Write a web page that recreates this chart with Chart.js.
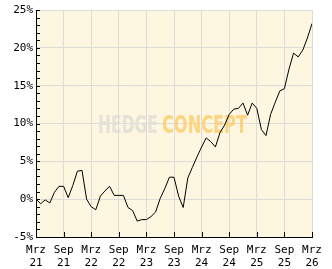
<!DOCTYPE html>
<html>
<head>
<meta charset="utf-8">
<script src="https://cdn.jsdelivr.net/npm/chart.js@4"></script>
<style>
  html, body { margin: 0; padding: 0; background: #fff; }
  canvas { display: block; }
</style>
</head>
<body>
<canvas id="perf" width="332" height="269"></canvas>
<script>
// monthly performance in %, Mrz 21 .. Mrz 26
const months = [];
for (let i = 0; i <= 60; i++) months.push(i);
const perf = [
  0.0, -0.6, -0.1, -0.5, 0.9, 1.7, 1.7, 0.2, 1.8, 3.7,
  3.8, 0.0, -1.0, -1.4, 0.4, 1.1, 1.7, 0.5, 0.5, 0.5,
  -1.1, -1.5, -2.9, -2.7, -2.7, -2.3, -1.7, 0.1, 1.4, 2.9,
  2.9, 0.4, -1.1, 2.8, 4.2, 5.6, 6.9, 8.1, 7.6, 6.9,
  8.8, 9.8, 11.2, 11.9, 12.0, 12.7, 11.1, 12.7, 12.0, 9.2,
  8.4, 11.2, 12.8, 14.3, 14.6, 17.2, 19.3, 18.8, 19.7, 21.3,
  23.2
];
const xTickLabels = [
  ['Mrz', '21'], ['Sep', '21'], ['Mrz', '22'], ['Sep', '22'], ['Mrz', '23'], ['Sep', '23'],
  ['Mrz', '24'], ['Sep', '24'], ['Mrz', '25'], ['Sep', '25'], ['Mrz', '26']
];

const FONT = "'DejaVu Sans Mono', monospace";

function stretchText(ctx, text, x, y, width) {
  const w = ctx.measureText(text).width;
  ctx.save();
  ctx.translate(x, y);
  ctx.scale(width / w, 1);
  ctx.fillText(text, 0, 0);
  ctx.restore();
}

const plotBg = {
  id: 'plotBg',
  beforeDraw(chart) {
    const { ctx, chartArea: a } = chart;
    ctx.save();
    ctx.fillStyle = '#fdf6e0';
    ctx.fillRect(a.left, a.top, a.right - a.left, a.bottom - a.top);
    ctx.restore();
  },
  beforeDatasetsDraw(chart) {
    // watermark
    const { ctx, chartArea: a } = chart;
    const x0 = (a.left + a.right) / 2 - 76;
    ctx.save();
    ctx.font = "bold 25px 'DejaVu Sans Condensed', 'DejaVu Sans', sans-serif";
    ctx.textBaseline = 'alphabetic';
    ctx.fillStyle = 'rgba(225,222,214,0.85)';
    stretchText(ctx, 'HEDGE', x0, 133, 60);
    ctx.fillStyle = 'rgba(253,206,110,0.85)';
    stretchText(ctx, 'CONCEPT', x0 + 64, 133, 85);
    ctx.restore();
  },
  afterDraw(chart) {
    // small tick marks pointing into the plot
    const { ctx, chartArea: a, scales } = chart;
    ctx.save();
    ctx.strokeStyle = '#000';
    ctx.lineWidth = 1;
    ctx.beginPath();
    for (let v = -5; v <= 25; v++) {
      const y = Math.round(scales.y.getPixelForValue(v)) + 0.5;
      ctx.moveTo(a.left, y);
      ctx.lineTo(a.left + 4, y);
    }
    for (let m = 0; m <= 60; m += 6) {
      const x = Math.round(scales.x.getPixelForValue(m)) + 0.5;
      ctx.moveTo(x, a.bottom);
      ctx.lineTo(x, a.bottom - 5);
    }
    ctx.stroke();
    ctx.restore();
  }
};

new Chart(document.getElementById('perf').getContext('2d'), {
  type: 'line',
  data: {
    labels: months,
    datasets: [{
      data: perf,
      borderColor: '#000',
      borderWidth: 1,
      pointRadius: 0,
      tension: 0,
      fill: false
    }]
  },
  options: {
    responsive: false,
    animation: false,
    layout: { padding: { top: 10, right: 20, left: 0, bottom: 0 } },
    plugins: { legend: { display: false }, tooltip: { enabled: false } },
    scales: {
      x: {
        type: 'linear',
        min: 0,
        max: 60,
        afterFit(s) { s.height = 32; },
        afterBuildTicks(s) {
          s.ticks = xTickLabels.map((_, i) => ({ value: i * 6 }));
        },
        grid: { color: '#dcdcdc', drawTicks: false },
        border: { color: '#000' },
        ticks: {
          padding: 6,
          maxRotation: 0,
          autoSkip: false,
          color: '#000',
          font: { family: FONT, size: 11, lineHeight: 1.25 },
          callback: (v) => xTickLabels[v / 6]
        }
      },
      y: {
        min: -5,
        max: 25,
        afterFit(s) { s.width = 36; },
        grid: { color: '#dcdcdc', drawTicks: false },
        border: { color: '#000' },
        ticks: {
          stepSize: 5,
          padding: 3,
          color: '#000',
          font: { family: FONT, size: 11 },
          callback: (v) => v + '%'
        }
      }
    }
  },
  plugins: [plotBg]
});
</script>
</body>
</html>
